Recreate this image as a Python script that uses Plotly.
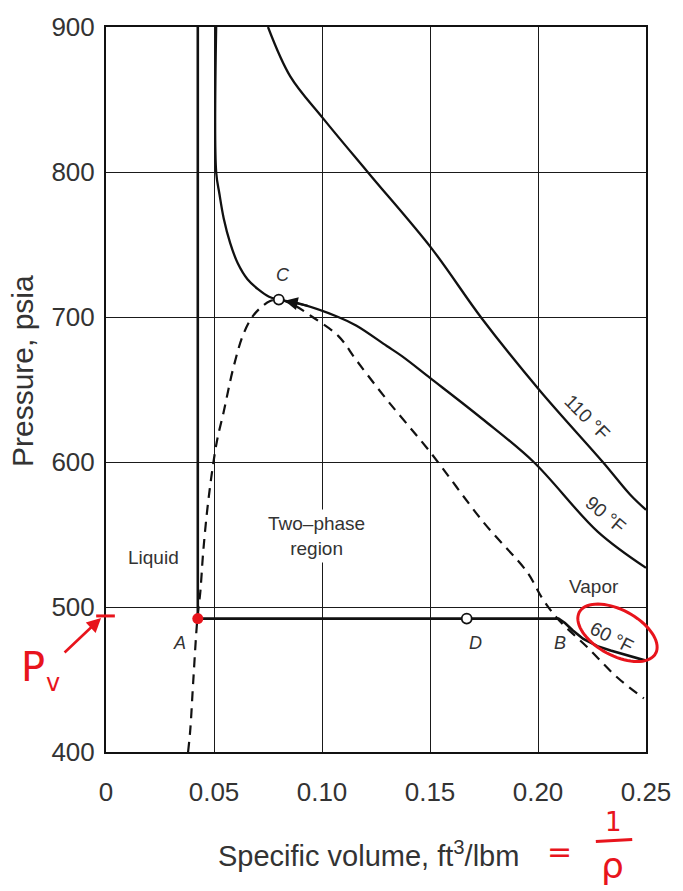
import math
import plotly.graph_objects as go

# ---------------- data ----------------
x_ticks = [0, 0.05, 0.10, 0.15, 0.20, 0.25]
x_ticktext = ["0", "0.05", "0.10", "0.15", "0.20", "0.25"]
y_ticks = [400, 500, 600, 700, 800, 900]

v_110 = [0.075, 0.0853, 0.1005, 0.1217, 0.1509, 0.174, 0.201, 0.230, 0.2426, 0.25]
p_110 = [900, 866, 837, 799, 747, 699, 649, 600, 577.6, 567]

v_90 = [0.051, 0.051, 0.0525, 0.0545, 0.0575, 0.061, 0.0655, 0.0705, 0.0755, 0.080,
        0.090, 0.1075, 0.116, 0.13, 0.137, 0.15, 0.174, 0.198, 0.2276, 0.25]
p_90 = [900, 800, 785, 768, 751, 737, 726, 719, 714, 712,
        709, 700, 694, 680, 673, 658, 630, 600, 552, 527]

v_60 = [0.0425, 0.0425, 0.2095, 0.2125, 0.216, 0.221, 0.2275, 0.2336, 0.25]
p_60 = [900, 492, 492, 489, 484, 478, 473, 470, 463]

v_dome = [0.038, 0.039, 0.0404, 0.0423, 0.0437, 0.045, 0.0475, 0.0513, 0.0544, 0.0588,
          0.0633, 0.0677, 0.0720, 0.0760, 0.080, 0.086, 0.0956, 0.1075, 0.116, 0.13,
          0.15, 0.175, 0.195, 0.202, 0.209, 0.223, 0.237, 0.249]
p_dome = [400, 415, 449, 492, 511, 538, 575, 614, 634, 664,
          687, 700, 707, 711, 712, 709, 700, 687, 670, 643,
          607, 558, 524, 506, 492, 472, 451, 437]

pt_C = (0.080, 712)
pt_D = (0.167, 492)
pt_A = (0.0425, 492)

# ---------------- figure ----------------
W, H = 683, 891
ML, MR, MT, MB = 106, 28, 22, 139
PW, PH = W - ML - MR, H - MT - MB

def px2paper(px, py):
    return (px - ML) / PW, (H - MB - py) / PH

TXT = "#333333"
RED = "#e8141c"
FONT = "Liberation Sans, Arial, sans-serif"

fig = go.Figure()
line_style = dict(color="#111111", width=2.3)
fig.add_trace(go.Scatter(x=v_dome, y=p_dome, mode="lines",
                         line=dict(color="#111111", width=2.2, dash="10px,7px"),
                         line_shape="spline", hoverinfo="skip"))
fig.add_trace(go.Scatter(x=v_110, y=p_110, mode="lines", line=line_style,
                         line_shape="spline", hoverinfo="skip"))
fig.add_trace(go.Scatter(x=v_90, y=p_90, mode="lines", line=line_style,
                         line_shape="spline", hoverinfo="skip"))
fig.add_trace(go.Scatter(x=v_60, y=p_60, mode="lines", line=dict(color="#111111", width=2.6),
                         hoverinfo="skip"))
fig.add_trace(go.Scatter(x=[pt_C[0], pt_D[0]], y=[pt_C[1], pt_D[1]], mode="markers",
                         marker=dict(symbol="circle", size=10, color="white",
                                     line=dict(color="#111111", width=1.8)),
                         hoverinfo="skip"))
fig.add_trace(go.Scatter(x=[pt_A[0]], y=[pt_A[1]], mode="markers",
                         marker=dict(symbol="circle", size=11, color=RED),
                         hoverinfo="skip"))

axis_common = dict(showgrid=True, gridcolor="#1a1a1a", gridwidth=1.4,
                   showline=True, linecolor="#111111", linewidth=2, mirror=True,
                   zeroline=False, ticks="",
                   tickfont=dict(family=FONT, size=26, color=TXT))
fig.update_xaxes(range=[0, 0.25], tickvals=x_ticks, ticktext=x_ticktext,
                 ticklabelstandoff=16, **axis_common)
fig.update_yaxes(range=[400, 900], tickvals=y_ticks, ticklabelstandoff=4, **axis_common)

ann = []
def label(x, y, text, size=19, angle=0, italic=False, bg=None, color=TXT):
    d = dict(x=x, y=y, xref="x", yref="y", text=(f"<i>{text}</i>" if italic else text),
             showarrow=False, textangle=angle, xanchor="center", yanchor="middle",
             font=dict(family=FONT, size=size, color=color))
    if bg:
        d.update(bgcolor=bg, borderpad=3)
    ann.append(d)

label(0.022, 534, "Liquid")
label(0.0973, 549, "Two–phase<br>region", bg="white")
label(0.2257, 514, "Vapor")
label(0.2229, 631, "110 °F", angle=45)
label(0.2313, 564, "90 °F", angle=40)
label(0.2344, 479, "60 °F", angle=27)
label(0.0821, 729, "C", size=18, italic=True)
label(0.0338, 475, "A", size=18, italic=True)
label(0.171, 475, "D", size=18, italic=True)
label(0.2103, 475, "B", size=18, italic=True)

# arrow into C
ann.append(dict(x=pt_C[0], y=pt_C[1], xref="x", yref="y", ax=0.094, ay=707.5,
                axref="x", ayref="y", showarrow=True, arrowhead=2, arrowsize=1.3,
                arrowwidth=2, arrowcolor="#111111", standoff=6, text=""))

def paper_text(px, py, text, size, color, family=FONT, angle=0):
    xt, yt = px2paper(px, py)
    ann.append(dict(x=xt, y=yt, xref="paper", yref="paper", showarrow=False,
                    xanchor="center", yanchor="middle", text=text, textangle=angle,
                    font=dict(family=family, size=size, color=color)))

# axis titles
paper_text(373, 855, "Specific volume, ft<sup>3</sup>/lbm", 29, TXT)
paper_text(21, 368, "Pressure, psia", 30, TXT, angle=-90)

# red hand annotations
hx, hy = px2paper(101, 617)
ann.append(dict(x=hx, y=hy, xref="paper", yref="paper", ax=-38, ay=36,
                showarrow=True, arrowhead=2, arrowsize=1.1, arrowwidth=2.6,
                arrowcolor=RED, text=""))
paper_text(32, 666, "P", 40, RED, family="DejaVu Sans")
paper_text(52, 683, "v", 24, RED, family="DejaVu Sans")
paper_text(567, 852, "=", 30, RED, family="DejaVu Sans")
paper_text(622, 822, "1", 26, RED, family="DejaVu Sans")
paper_text(621, 866, "ρ", 36, RED, family="DejaVu Sans")

shapes = []
a0, b0 = px2paper(96, 615)
a1, b1 = px2paper(115, 615)
shapes.append(dict(type="line", xref="paper", yref="paper", x0=a0, y0=b0, x1=a1, y1=b1,
                   line=dict(color=RED, width=3)))
a0, b0 = px2paper(604, 842)
a1, b1 = px2paper(641, 840)
shapes.append(dict(type="line", xref="paper", yref="paper", x0=a0, y0=b0, x1=a1, y1=b1,
                   line=dict(color=RED, width=3)))

# rotated ellipse around the 60 °F label
cx, cy, ra, rb, th = 626, 632, 44, 23, math.radians(28)
pts = []
for i in range(73):
    t = 2 * math.pi * i / 72
    ex = cx + ra * math.cos(t) * math.cos(th) - rb * math.sin(t) * math.sin(th)
    ey = cy + ra * math.cos(t) * math.sin(th) + rb * math.sin(t) * math.cos(th)
    pts.append(px2paper(ex, ey))
path = "M " + " L ".join(f"{p[0]:.4f},{p[1]:.4f}" for p in pts)
shapes.append(dict(type="path", xref="paper", yref="paper", path=path,
                   line=dict(color=RED, width=3)))

fig.update_layout(width=W, height=H, margin=dict(l=ML, r=MR, t=MT, b=MB),
                  plot_bgcolor="white", paper_bgcolor="white", showlegend=False,
                  annotations=ann, shapes=shapes)

fig.write_html("out.html")
